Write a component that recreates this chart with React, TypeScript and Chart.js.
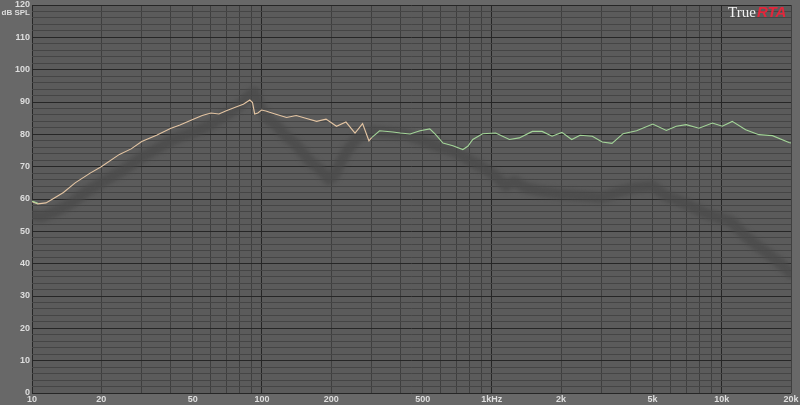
import React, { useEffect, useRef } from "react";
import { Chart, registerables } from "chart.js";

Chart.register(...registerables);

// Frequency grid ticks (Hz) and their labels
const freqTicks = [
  10, 20, 30, 40, 50, 60, 70, 80, 90,
  100, 200, 300, 400, 500, 600, 700, 800, 900,
  1000, 2000, 3000, 4000, 5000, 6000, 7000, 8000, 9000,
  10000, 20000,
];
const freqLabels: Record<number, string> = {
  10: "10", 20: "20", 50: "50", 100: "100", 200: "200", 500: "500",
  1000: "1kHz", 2000: "2k", 5000: "5k", 10000: "10k", 20000: "20k",
};
const decades = [10, 100, 1000, 10000];

// Orange (low band) response: [Hz, dB SPL]
const lowFreq = [10, 10.6, 11.5, 12.3, 13.7, 15.4, 17.9, 20, 24, 27, 30, 35, 40, 44, 50, 55, 60, 65, 70, 77.6, 83, 88.6, 91, 93, 96, 99.6, 104, 108, 115, 128, 141, 155, 173, 190, 211, 232, 254, 274, 292, 300];
const lowDb = [59.2, 58.5, 58.8, 60, 62, 65, 68, 70, 73.8, 75.5, 77.8, 79.8, 81.8, 82.9, 84.6, 85.8, 86.6, 86.3, 87.3, 88.5, 89.3, 90.6, 89.8, 86.3, 86.6, 87.5, 87.2, 86.8, 86.2, 85.2, 85.8, 85.0, 84.0, 84.7, 82.5, 83.8, 80.4, 83.3, 78.0, 79.0];

// Green (high band) response
const highFreq = [300, 325, 371, 400, 441, 487, 537, 570, 613, 677, 748, 786, 826, 912, 1039, 1192, 1316, 1500, 1655, 1827, 2017, 2225, 2420, 2735, 3020, 3330, 3720, 4260, 5010, 5740, 6340, 7000, 7960, 9100, 10050, 11100, 12700, 14500, 16600, 19600, 20000];
const highDb = [79.0, 81.1, 80.7, 80.4, 80.1, 81.1, 81.7, 79.9, 77.3, 76.5, 75.3, 76.3, 78.4, 80.2, 80.4, 78.4, 78.9, 80.9, 80.9, 79.4, 80.6, 78.4, 79.7, 79.4, 77.6, 77.2, 80.2, 81.1, 83.2, 81.2, 82.5, 83.0, 81.9, 83.5, 82.5, 84.0, 81.4, 79.9, 79.6, 77.5, 77.3];

// Start-of-trace green stub
const stubFreq = [10, 10.6];
const stubDb = [59.4, 58.7];

// Dark "shadow" trace
const shadowFreq = [10, 11, 13, 15, 17, 20, 25, 30, 35, 40, 45, 50, 60, 70, 80, 88, 93, 97, 105, 115, 125, 140, 160, 180, 195, 205, 215, 235, 260, 300, 350, 420, 500, 600, 700, 800, 900, 1000, 1150, 1250, 1400, 1600, 2000, 2500, 3000, 3500, 4200, 5000, 5700, 6500, 7500, 8500, 10000, 11000, 12500, 14000, 16000, 18000, 20000];
const shadowDb = [55, 54.5, 56.5, 59, 62, 65, 69, 73, 75.5, 78, 79.5, 80.5, 83, 86, 89, 92, 93, 89, 85, 83, 80, 77, 72, 69, 66, 67, 70, 75, 79, 81, 80.5, 80, 78, 76, 74.5, 72, 70, 68, 64, 65.5, 63.5, 62.5, 61.5, 61, 60.5, 62, 63.5, 64, 61, 59.5, 57.5, 55.5, 54, 53, 49, 46, 43, 40, 37];

const toPts = (f: number[], d: number[]) => f.map((x, i) => ({ x, y: d[i] }));

const FONT = 'Arial, "Liberation Sans", sans-serif';

export default function App() {
  const ref = useRef<HTMLCanvasElement>(null);

  useEffect(() => {
    const bgPlugin = {
      id: "bg",
      beforeDraw(chart: any) {
        const { ctx, chartArea: a } = chart;
        ctx.save();
        ctx.fillStyle = "#686868";
        ctx.fillRect(0, 0, chart.width, chart.height);
        ctx.fillStyle = "#5b5b5b";
        ctx.fillRect(a.left, a.top, a.right - a.left, a.bottom - a.top);
        ctx.restore();
      },
      beforeDatasetDraw(chart: any, args: any) {
        if (args.index === 3) {
          chart.ctx.save();
          chart.ctx.filter = "blur(2px)";
        }
      },
      afterDatasetDraw(chart: any, args: any) {
        if (args.index === 3) chart.ctx.restore();
      },
      afterDraw(chart: any) {
        const { ctx } = chart;
        ctx.save();
        ctx.fillStyle = "#dedede";
        ctx.font = `bold 8px ${FONT}`;
        ctx.textAlign = "right";
        ctx.textBaseline = "middle";
        ctx.fillText("dB SPL", 30, 13);
        ctx.textAlign = "left";
        ctx.textBaseline = "alphabetic";
        ctx.font = '15px "Liberation Serif", "Times New Roman", serif';
        ctx.fillStyle = "#f2f2f2";
        ctx.fillText("True", 728, 17);
        ctx.font = `bold italic 15px ${FONT}`;
        ctx.fillStyle = "#e3263b";
        ctx.fillText("RTA", 757, 17);
        ctx.restore();
      },
    };

    const chart = new Chart(ref.current!, {
      type: "line",
      data: {
        datasets: [
          { data: toPts(stubFreq, stubDb), borderColor: "#a3d598", borderWidth: 1.1, pointRadius: 0, order: 0 },
          { data: toPts(lowFreq, lowDb), borderColor: "#e4c5a3", borderWidth: 1.1, pointRadius: 0, order: 1 },
          { data: toPts(highFreq, highDb), borderColor: "#a3d598", borderWidth: 1.1, pointRadius: 0, order: 2 },
          { data: toPts(shadowFreq, shadowDb), borderColor: "rgba(72,72,72,0.7)", borderWidth: 11, pointRadius: 0, order: 3, borderJoinStyle: "round", borderCapStyle: "round" },
        ] as any,
      },
      options: {
        responsive: false,
        animation: false,
        events: [],
        layout: { padding: { top: 5, right: 9, left: 0, bottom: 0 } },
        plugins: { legend: { display: false }, tooltip: { enabled: false } },
        scales: {
          x: {
            type: "logarithmic",
            min: 10,
            max: 20000,
            afterBuildTicks: (s: any) => {
              s.ticks = freqTicks.map((v) => ({ value: v }));
            },
            afterFit: (s: any) => {
              s.height = 12;
              s.paddingLeft = 0;
              s.paddingRight = 0;
            },
            ticks: {
              autoSkip: false,
              maxRotation: 0,
              minRotation: 0,
              padding: 1,
              color: "#dedede",
              font: { size: 9, weight: "bold", family: FONT },
              callback: (v: any) => freqLabels[Number(v)] ?? "",
            },
            grid: {
              drawTicks: false,
              color: (c: any) => (decades.includes(c.tick?.value) ? "#262626" : "#3f3f3f"),
            },
            border: { display: false },
          },
          y: {
            min: 0,
            max: 120,
            afterFit: (s: any) => {
              s.width = 32;
              s.paddingTop = 0;
              s.paddingBottom = 0;
            },
            ticks: {
              stepSize: 2,
              autoSkip: false,
              padding: 2,
              color: "#dedede",
              font: { size: 9, weight: "bold", family: FONT },
              callback: (v: any) => (Number(v) % 10 === 0 ? String(v) : ""),
            },
            grid: {
              drawTicks: false,
              color: (c: any) => (c.tick && c.tick.value % 10 === 0 ? "#262626" : "#454545"),
            },
            border: { display: false },
          },
        },
      } as any,
      plugins: [bgPlugin],
    });
    return () => chart.destroy();
  }, []);

  return (
    <div style={{ position: "fixed", left: 0, top: 0, width: 800, height: 405 }}>
      <canvas ref={ref} width={800} height={405} style={{ display: "block" }} />
    </div>
  );
}
